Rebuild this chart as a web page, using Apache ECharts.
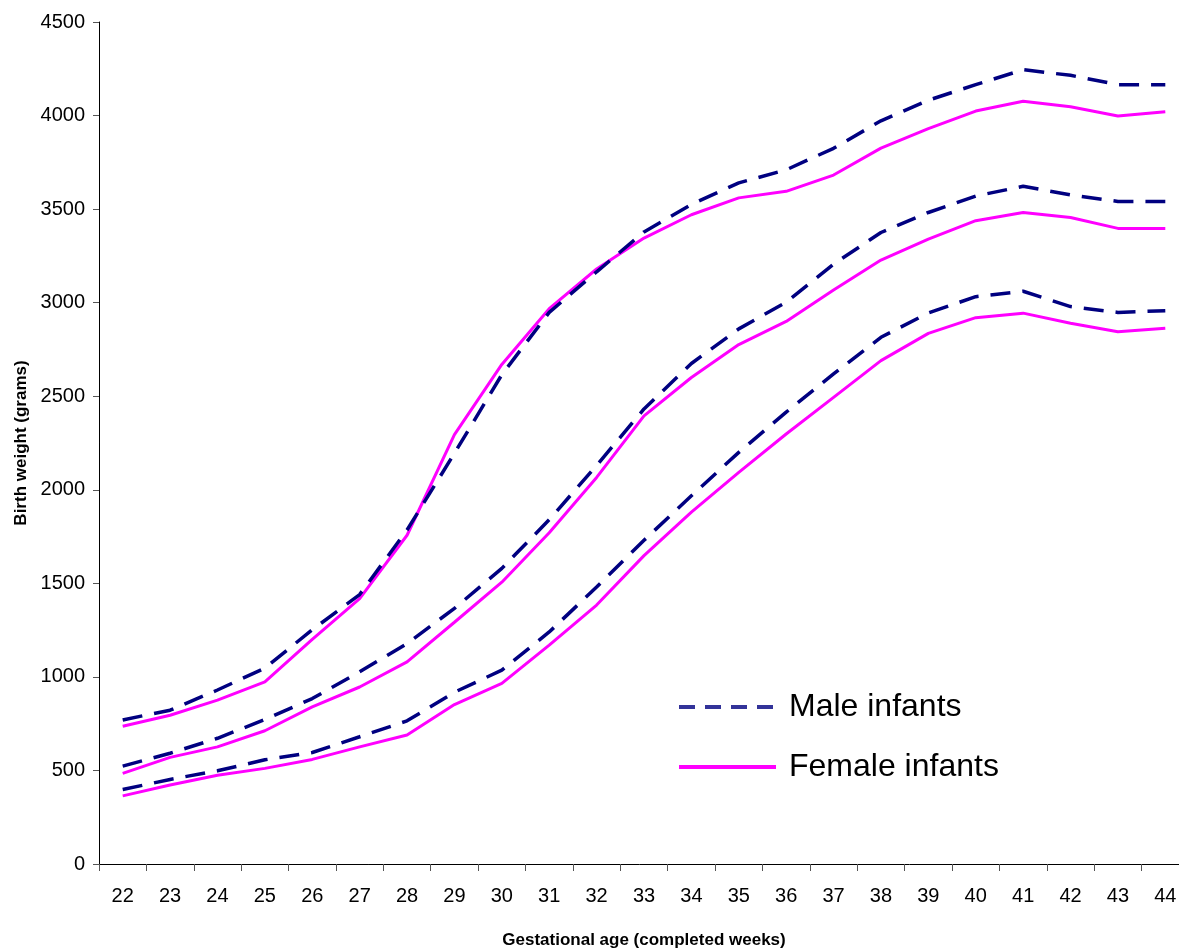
<!DOCTYPE html>
<html>
<head>
<meta charset="utf-8">
<script src="https://cdn.jsdelivr.net/npm/echarts@6/dist/echarts.min.js"></script>
<style>html,body{margin:0;padding:0;background:#fff;overflow:hidden}#c{width:1179px;height:952px}</style>
</head>
<body>
<div id="c"></div>
<script>
const weeks = ['22','23','24','25','26','27','28','29','30','31','32','33','34','35','36','37','38','39','40','41','42','43','44'];
const maleTop = [770, 822, 930, 1047, 1252, 1440, 1785, 2195, 2615, 2948, 3165, 3378, 3525, 3640, 3710, 3825, 3972, 4082, 4165, 4245, 4215, 4165, 4165];
const femaleTop = [736, 795, 876, 973, 1200, 1418, 1757, 2295, 2670, 2968, 3180, 3345, 3470, 3560, 3595, 3682, 3826, 3930, 4024, 4076, 4047, 3998, 4020];
const maleMid = [523, 592, 672, 772, 884, 1027, 1178, 1366, 1580, 1840, 2130, 2432, 2675, 2860, 3002, 3206, 3375, 3482, 3570, 3622, 3576, 3541, 3541];
const femaleMid = [484, 570, 626, 712, 840, 946, 1080, 1292, 1506, 1770, 2066, 2395, 2600, 2776, 2900, 3068, 3228, 3340, 3438, 3482, 3455, 3397, 3397];
const maleLow = [398, 452, 498, 557, 596, 680, 765, 918, 1036, 1240, 1480, 1730, 1968, 2200, 2415, 2619, 2815, 2945, 3032, 3061, 2979, 2948, 2957];
const femaleLow = [364, 422, 474, 511, 559, 626, 689, 852, 965, 1170, 1384, 1648, 1881, 2093, 2298, 2494, 2690, 2836, 2920, 2944, 2890, 2845, 2863];

const MALE = 'Male infants', FEMALE = 'Female infants';
const maleStyle = {color:'#000080', width:3.5, type:[20,12]};
const femaleStyle = {color:'#FF00FF', width:3, type:'solid'};
function mk(name, data, style, z){
  return {name, type:'line', data, symbol:'none', smooth:false, z,
    lineStyle: style, itemStyle:{color: style.color}, emphasis:{disabled:true}};
}
const chart = echarts.init(document.getElementById('c'), null, {renderer:'canvas'});
chart.setOption({
  animation:false,
  backgroundColor:'#fff',
  textStyle:{fontFamily:'Liberation Sans, Arial, sans-serif'},
  grid:{left:99, top:22, width:1090, height:842, containLabel:false, outerBoundsMode:'none'},
  legend:{
    left:672, top:686, orient:'vertical', itemWidth:97, itemHeight:20, itemGap:28,
    data:[{name:MALE, itemStyle:{opacity:0}, lineStyle:{color:'#333399', width:4, type:[16,10]}},
          {name:FEMALE, itemStyle:{opacity:0}, lineStyle:{color:'#FF00FF', width:4}}],
    textStyle:{fontSize:32, color:'#000', fontFamily:'Liberation Sans, Arial, sans-serif', padding:[0,0,0,8]},
    selectedMode:false
  },
  xAxis:{
    type:'category', data:weeks, boundaryGap:true,
    name:'Gestational age (completed weeks)', nameLocation:'middle', nameGap:68,
    nameTextStyle:{fontSize:17, fontWeight:'bold', color:'#000'},
    axisLine:{lineStyle:{color:'#000', width:1}},
    axisTick:{show:true, length:7, lineStyle:{color:'#555'}},
    axisLabel:{fontSize:20, color:'#000', margin:22, interval:0},
    splitLine:{show:false}
  },
  yAxis:{
    type:'value', min:0, max:4500, interval:500,
    name:'Birth weight (grams)', nameLocation:'middle', nameGap:67, nameRotate:90,
    nameTextStyle:{fontSize:17, fontWeight:'bold', color:'#000'},
    axisLine:{show:true, lineStyle:{color:'#000', width:1}},
    axisTick:{show:true, length:6, inside:false, lineStyle:{color:'#555'}},
    axisLabel:{fontSize:20, color:'#000', margin:14, formatter: v => String(v)},
    splitLine:{show:false}
  },
  series:[
    mk(FEMALE, femaleTop, femaleStyle, 2),
    mk(MALE, maleTop, maleStyle, 3),
    mk(FEMALE, femaleMid, femaleStyle, 2),
    mk(MALE, maleMid, maleStyle, 3),
    mk(FEMALE, femaleLow, femaleStyle, 2),
    mk(MALE, maleLow, maleStyle, 3)
  ]
});
</script>
</body>
</html>
